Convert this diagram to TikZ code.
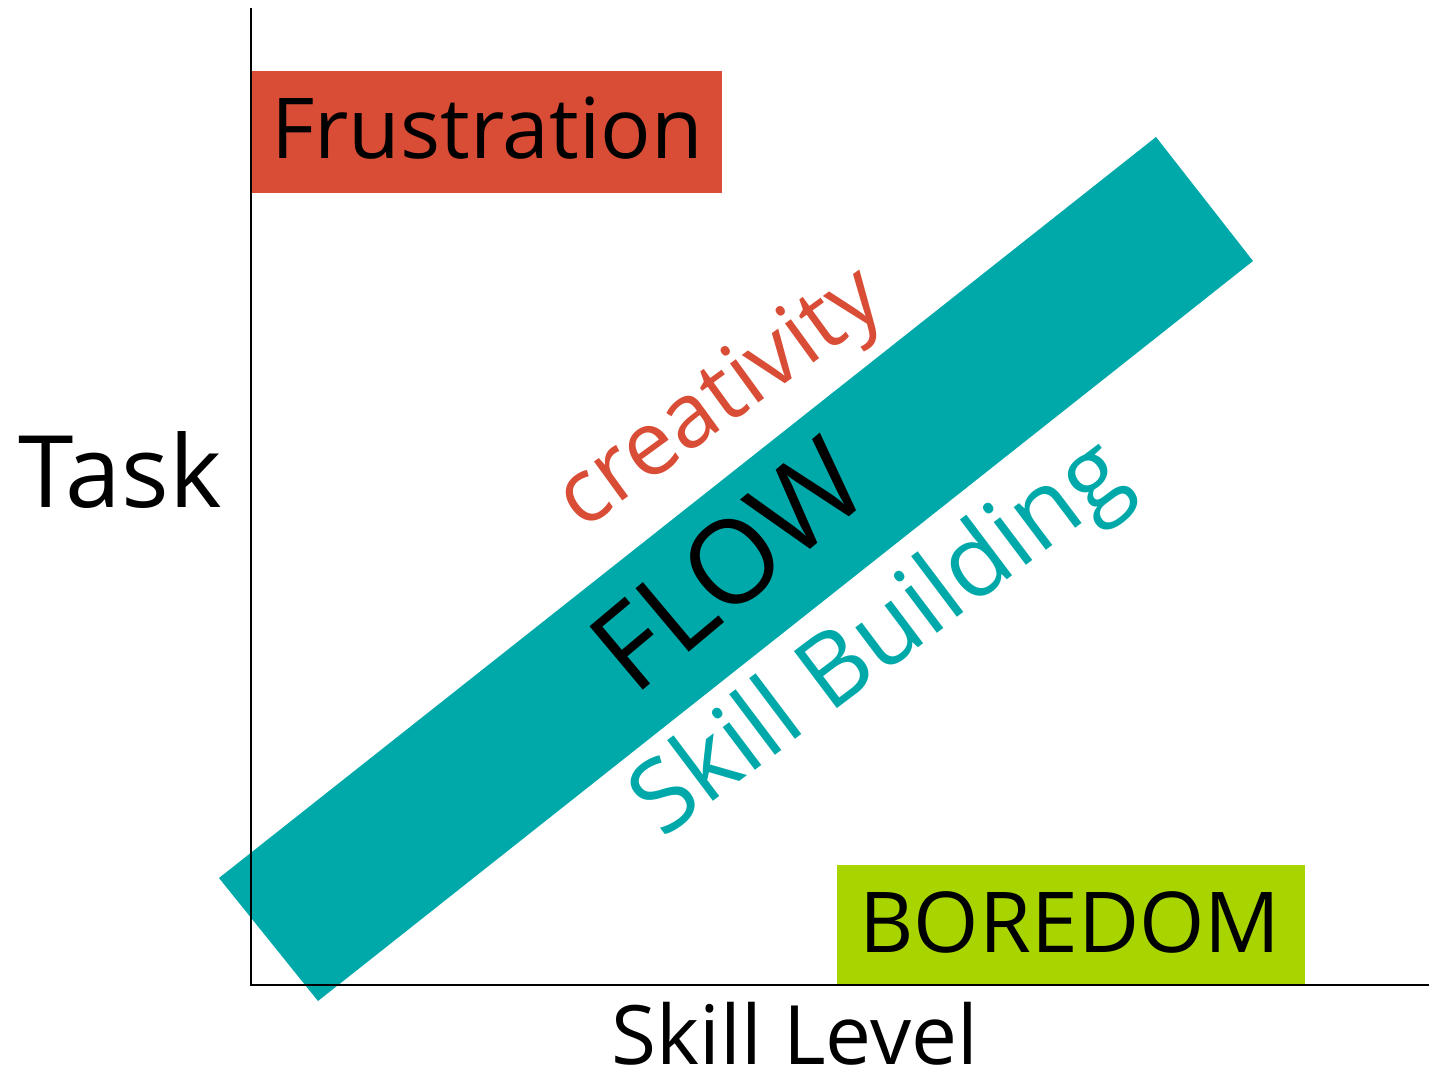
\documentclass[tikz,border=0pt]{standalone}
\usepackage{fontspec}
\setmainfont{Open Sans}
\definecolor{frred}{HTML}{D94C35}
\definecolor{flteal}{HTML}{00A9A9}
\definecolor{bolime}{HTML}{A8D400}
\begin{document}
\begin{tikzpicture}[x=0.5pt,y=-0.5pt,
  lbl/.style={inner sep=0pt,anchor=center},
  axisline/.style={line width=1.3pt,black}]
\useasboundingbox (0,0) rectangle (1429,1075);
% boxes
\fill[frred] (251,71) rectangle (722,193);
\fill[bolime] (837,865) rectangle (1305,985);
% band
\fill[flteal] (219,878) -- (318,1001) -- (1253,261) -- (1156,137) -- cycle;
% axes
\coordinate (top) at (251,8);
\coordinate (origin) at (251,985);
\coordinate (right) at (1429,985);
\draw[axisline] (top) -- (origin) -- (right);
% labels
\node[lbl,font=\fontsize{42}{42}\selectfont] (fr) at (487,128) {Frustration};
\node[lbl,font=\fontsize{42}{42}\selectfont] (bo) at (1070,922) {BOREDOM};
\node[lbl,font=\fontsize{50}{50}\selectfont] (task) at (120,470) {Task};
\node[lbl,font=\fontsize{41}{41}\selectfont] (sl) at (795,1034) {Skill Level};
\node[lbl,font=\fontsize{58}{58}\selectfont,rotate=40] (flow) at (728,565) {FLOW};
\node[lbl,font=\fontsize{45}{45}\selectfont,text=frred,rotate=36] (cr) at (722,402) {creativity};
\node[lbl,font=\fontsize{50}{50}\selectfont,text=flteal,rotate=37] (sb) at (882,642) {Skill Building};
\end{tikzpicture}
\end{document}
